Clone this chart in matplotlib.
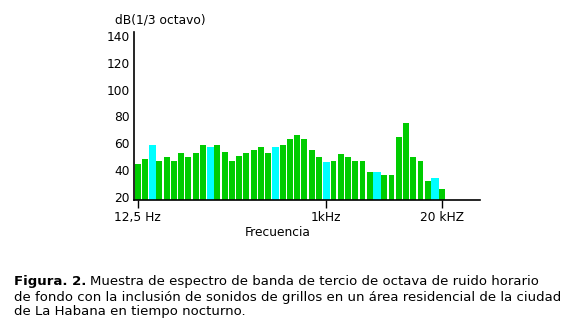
import numpy as np
import matplotlib.pyplot as plt

# Niveles por banda (dB, 1/3 de octava), de 12,5 Hz a 20 kHz
niveles = [44.4, 48.2, 58.8, 46.9, 49.6, 46.9, 52.6, 49.6, 52.6, 58.8,
           57.3, 58.8, 53.4, 46.7, 50.4, 52.6, 54.9, 57.1, 52.6, 57.1,
           58.6, 63.1, 66.1, 63.1, 54.9, 49.6, 45.9, 46.7, 51.9, 49.6,
           46.7, 46.7, 38.4, 38.4, 36.2, 36.2, 64.6, 75.0, 49.6, 46.7,
           31.7, 34.0, 25.8]
# bandas resaltadas en cian
resaltadas = [2, 10, 19, 26, 33, 41]
marcas = [0, 26, 42]
marcas_txt = ["12,5 Hz", "1kHz", "20 kHZ"]
yticks = [20, 40, 60, 80, 100, 120, 140]

W, H = 571, 333
fs = 8.8    # ejes
fs_pie = 9.5  # pie de figura
fig = plt.figure(figsize=(W / 100, H / 100), dpi=100)
ax = fig.add_axes([134 / W, (H - 200) / H, (480 - 134) / W, (200 - 32) / H])

x = np.arange(len(niveles))
cian = np.isin(x, resaltadas)
colores = np.where(cian, "#00ffff", "#00cc00")
anchos = np.where(cian, 1.0, 0.82)
ax.bar(x, niveles, width=anchos, color=colores, linewidth=0)

ax.set_xlim(-0.5, 47.2)
ax.set_ylim(17.5, 143)
for s in ["top", "right"]:
    ax.spines[s].set_visible(False)
for s in ["left", "bottom"]:
    ax.spines[s].set_linewidth(1.2)

ax.set_yticks(yticks)
ax.set_xticks(marcas)
ax.set_xticklabels(marcas_txt)
ax.tick_params(axis="y", length=0, pad=3, labelsize=fs)
ax.tick_params(axis="x", length=6, width=1, pad=2, labelsize=fs)

fig.text(115 / W, 1 - 20 / H, "dB(1/3 octavo)", fontsize=fs, ha="left", va="center")
fig.text(278 / W, 1 - 232 / H, "Frecuencia", fontsize=fs, ha="center", va="center")

# pie de figura
y0 = 1 - 281 / H
t = fig.text(14 / W, y0, "Figura. 2.", fontsize=fs_pie, fontweight="bold", va="center")
fig.canvas.draw()
bb = t.get_window_extent()
fig.text((bb.x1 + 4) / W, y0, "Muestra de espectro de banda de tercio de octava de ruido horario",
         fontsize=fs_pie, va="center")
fig.text(14 / W, 1 - 297 / H,
         "de fondo con la inclusión de sonidos de grillos en un área residencial de la ciudad",
         fontsize=fs_pie, va="center")
fig.text(14 / W, 1 - 312 / H, "de La Habana en tiempo nocturno.", fontsize=fs_pie, va="center")

fig.savefig("out.png", dpi=100)
